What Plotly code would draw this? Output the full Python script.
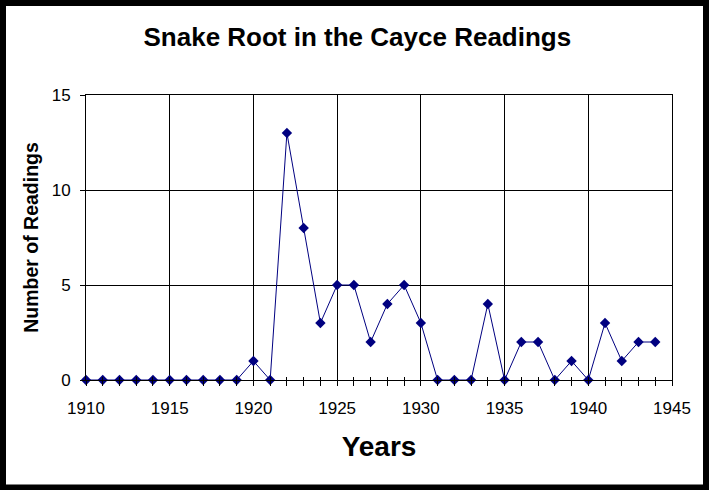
import plotly.graph_objects as go

# Dados: leituras por ano
YEARS = list(range(1910, 1945))
COUNTS = [0, 0, 0, 0, 0, 0, 0, 0, 0, 0,
          1, 0, 13, 8, 3, 5, 5, 2, 4, 5,
          3, 0, 0, 0, 4, 0, 2, 2, 0, 1,
          0, 3, 1, 2, 2]
X_TICKS = [1910, 1915, 1920, 1925, 1930, 1935, 1940, 1945]
Y_TICKS = [0, 5, 10, 15]

FONT = "Liberation Sans, Arial, sans-serif"
NAVY = "#000080"

fig = go.Figure()

fig.add_trace(go.Scatter(
    x=YEARS,
    y=COUNTS,
    mode="lines+markers",
    line=dict(color=NAVY, width=1),
    marker=dict(symbol="diamond", size=8, color=NAVY),
    cliponaxis=False,
    showlegend=False,
))

# traço invisível só para desenhar os ticks internos no eixo x2
fig.add_trace(go.Scatter(
    x=YEARS, y=COUNTS, mode="none", xaxis="x2",
    showlegend=False, hoverinfo="skip",
))

fig.update_layout(
    width=709,
    height=490,
    paper_bgcolor="white",
    plot_bgcolor="white",
    margin=dict(l=86, r=37, t=95, b=110),
    font=dict(family=FONT, color="black"),
    title=dict(
        text="<b>Snake Root in the Cayce Readings</b>",
        x=0.504, xanchor="center",
        y=0.924, yanchor="middle",
        font=dict(size=26, color="black"),
    ),
    xaxis=dict(
        range=[1910, 1945],
        tickvals=X_TICKS,
        ticks="outside", ticklen=5, tickcolor="black", tickwidth=1,
        minor=dict(dtick=1, tick0=1910, ticks="outside", ticklen=5,
                   tickcolor="black", showgrid=False),
        ticklabelstandoff=8,
        tickfont=dict(size=17),
        showgrid=True, gridcolor="black", gridwidth=1,
        showline=True, linecolor="black", linewidth=1, mirror=True,
        zeroline=False,
        title=dict(text="<b>Years</b>", font=dict(size=28), standoff=18),
    ),
    xaxis2=dict(
        range=[1910, 1945],
        overlaying="x",
        tick0=1910, dtick=1,
        ticks="inside", ticklen=3, tickcolor="black",
        showticklabels=False, showgrid=False, zeroline=False,
    ),
    yaxis=dict(
        range=[0, 15],
        tickvals=Y_TICKS,
        ticks="outside", ticklen=5, tickcolor="black",
        ticklabelstandoff=6,
        tickfont=dict(size=17),
        showgrid=True, gridcolor="black", gridwidth=1,
        showline=True, linecolor="black", linewidth=1, mirror=True,
        zeroline=False,
        title=dict(text="<b>Number of Readings</b>", font=dict(size=19.5), standoff=7),
    ),
    shapes=[dict(
        type="rect", xref="paper", yref="paper",
        x0=(3 - 86) / 586, x1=(706 - 86) / 586,
        y0=(380 - 487.5) / 285, y1=(380 - 3) / 285,
        line=dict(color="black", width=6),
        fillcolor="rgba(0,0,0,0)",
    )],
)

# tira a margem padrão do <body> para a figura ocupar a janela inteira
fig.write_html(
    "out.html",
    config={"displayModeBar": False},
    post_script="document.body.style.margin='0';",
)
